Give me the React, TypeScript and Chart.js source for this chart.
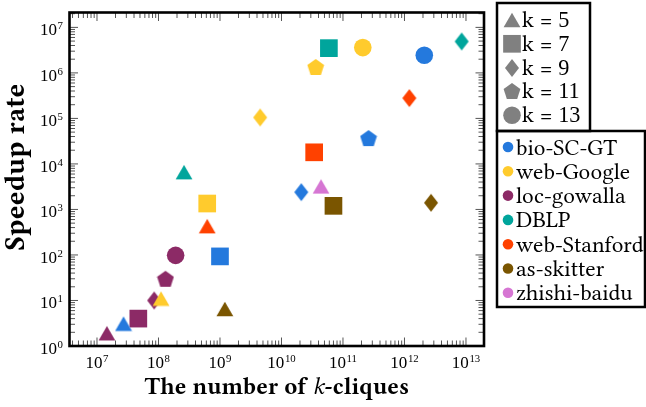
import React, { useEffect, useRef } from "react";
import { Chart, registerables } from "chart.js";

Chart.register(...registerables);

// ---------------- data ----------------
const kValues = [5, 7, 9, 11, 13];
const kShapes = ["triangle", "square", "diamond", "pentagon", "circle"];

const networks = [
  "bio-SC-GT",
  "web-Google",
  "loc-gowalla",
  "DBLP",
  "web-Stanford",
  "as-skitter",
  "zhishi-baidu",
];
const networkColors = [
  "#2479dd",
  "#ffcb2d",
  "#8c2a66",
  "#00a59c",
  "#ff4100",
  "#7a5500",
  "#d676d3",
];

// number of k-cliques / speedup for k = 5, 7, 9, 11, 13 (null = not measured)
const bioCounts = [2.7e7, 1.0e9, 2.1e10, 2.6e11, 2.1e12];
const bioSpeedups = [3.1, 93, 2.4e3, 3.7e4, 2.45e6];
const googleCounts = [1.1e8, 6.2e8, 4.5e9, 3.6e10, 2.1e11];
const googleSpeedups = [11, 1.35e3, 1.05e5, 1.35e6, 3.6e6];
const gowallaCounts = [1.45e7, 4.7e7, 8.5e7, 1.3e8, 1.9e8];
const gowallaSpeedups = [1.9, 4, 10, 30, 98];
const dblpCounts = [2.6e8, 5.9e10, 8.5e12, null, null];
const dblpSpeedups = [6.6e3, 3.5e6, 4.9e6, null, null];
const stanfordCounts = [6.2e8, 3.4e10, 1.2e12, null, null];
const stanfordSpeedups = [430, 1.8e4, 2.8e5, null, null];
const skitterCounts = [1.2e9, 7.0e10, 2.7e12, null, null];
const skitterSpeedups = [6.5, 1.2e3, 1.4e3, null, null];
const baiduCounts = [4.4e10, null, null, null, null];
const baiduSpeedups = [3.2e3, null, null, null, null];

const allCounts = [bioCounts, googleCounts, gowallaCounts, dblpCounts, stanfordCounts, skitterCounts, baiduCounts];
const allSpeedups = [bioSpeedups, googleSpeedups, gowallaSpeedups, dblpSpeedups, stanfordSpeedups, skitterSpeedups, baiduSpeedups];

const xTickExponents = [7, 8, 9, 10, 11, 12, 13];
const yTickExponents = [0, 1, 2, 3, 4, 5, 6, 7];

const xTitleParts = ["The number of ", "k", "-cliques"];
const yTitle = "Speedup rate";

// ---------------- markers ----------------
function makeCanvas(w: number, h: number) {
  const c = document.createElement("canvas");
  c.width = w;
  c.height = h;
  return c;
}

function makeMarker(shape: string, color: string): any {
  if (shape === "triangle") {
    const c = makeCanvas(18, 16);
    const g = c.getContext("2d")!;
    g.fillStyle = color;
    g.beginPath();
    g.moveTo(9, 0.8);
    g.lineTo(17.4, 15.3);
    g.lineTo(0.6, 15.3);
    g.closePath();
    g.fill();
    return c;
  }
  if (shape === "diamond") {
    const c = makeCanvas(16, 20);
    const g = c.getContext("2d")!;
    g.fillStyle = color;
    g.beginPath();
    g.moveTo(8, 0.9);
    g.lineTo(15, 10);
    g.lineTo(8, 19.1);
    g.lineTo(1, 10);
    g.closePath();
    g.fill();
    return c;
  }
  if (shape === "pentagon") {
    const c = makeCanvas(18, 18);
    const g = c.getContext("2d")!;
    g.fillStyle = color;
    const R = 8.8;
    const cx = 9;
    const cy = 9.84;
    g.beginPath();
    for (let i = 0; i < 5; i++) {
      const a = -Math.PI / 2 + (i * 2 * Math.PI) / 5;
      const px = cx + R * Math.cos(a);
      const py = cy + R * Math.sin(a);
      if (i === 0) g.moveTo(px, py);
      else g.lineTo(px, py);
    }
    g.closePath();
    g.fill();
    return c;
  }
  if (shape === "square") return "rect";
  return "circle";
}

function markerRadius(shape: string) {
  if (shape === "square") return 12.5;
  if (shape === "circle") return 8.8;
  return 9;
}

// ---------------- drawing helpers ----------------
const FAM = `"Libertinus Serif", "Liberation Serif", serif`;
const NUM = `"Liberation Serif", serif`;

function fitSize(ctx: CanvasRenderingContext2D, text: string, style: string, target: number) {
  ctx.font = `${style} 100px ${FAM}`;
  const w = ctx.measureText(text).width;
  return (100 * target) / w;
}

function drawPowerLabel(ctx: CanvasRenderingContext2D, exp: number, x: number, baseline: number, align: "center" | "right") {
  const mainSize = 17;
  const supSize = 10.8;
  ctx.font = `${mainSize}px ${NUM}`;
  const base = "10";
  const wb = ctx.measureText(base).width;
  ctx.font = `${supSize}px ${NUM}`;
  const sup = String(exp);
  const ws = ctx.measureText(sup).width;
  const gap = 0.6;
  const total = wb + gap + ws;
  const left = align === "center" ? x - total / 2 : x - total;
  ctx.textAlign = "left";
  ctx.textBaseline = "alphabetic";
  ctx.fillStyle = "#000";
  ctx.font = `${mainSize}px ${NUM}`;
  ctx.fillText(base, left, baseline);
  ctx.font = `${supSize}px ${NUM}`;
  ctx.fillText(sup, left + wb + gap, baseline - 6);
}

const axisPlugin = {
  id: "pgfAxis",
  afterDraw(chart: any) {
    const ctx: CanvasRenderingContext2D = chart.ctx;
    const a = chart.chartArea;
    const xs = chart.scales.x;
    const ys = chart.scales.y;
    ctx.save();

    // ticks (inward, mirrored)
    ctx.strokeStyle = "#555";
    ctx.lineWidth = 1;
    const majorLen = 8.5;
    const minorLen = 5.5;
    const xmin = xs.min, xmax = xs.max, ymin = ys.min, ymax = ys.max;
    ctx.beginPath();
    for (let d = Math.floor(Math.log10(xmin)); d <= Math.ceil(Math.log10(xmax)); d++) {
      for (let m = 1; m <= 9; m++) {
        const v = m * Math.pow(10, d);
        if (v < xmin || v > xmax) continue;
        const px = xs.getPixelForValue(v);
        const len = m === 1 ? majorLen : minorLen;
        ctx.moveTo(px, a.bottom);
        ctx.lineTo(px, a.bottom - len);
        ctx.moveTo(px, a.top);
        ctx.lineTo(px, a.top + len);
      }
    }
    for (let d = Math.floor(Math.log10(ymin)); d <= Math.ceil(Math.log10(ymax)); d++) {
      for (let m = 1; m <= 9; m++) {
        const v = m * Math.pow(10, d);
        if (v < ymin * 0.9999 || v > ymax) continue;
        const py = ys.getPixelForValue(v);
        const len = m === 1 ? majorLen : minorLen;
        ctx.moveTo(a.left, py);
        ctx.lineTo(a.left + len, py);
        ctx.moveTo(a.right, py);
        ctx.lineTo(a.right - len, py);
      }
    }
    ctx.stroke();

    // frame
    ctx.strokeStyle = "#000";
    ctx.lineWidth = 2.6;
    ctx.strokeRect(a.left, a.top, a.right - a.left, a.bottom - a.top);

    // tick labels
    for (const e of xTickExponents) {
      const px = xs.getPixelForValue(Math.pow(10, e));
      drawPowerLabel(ctx, e, px, a.bottom + 22, "center");
    }
    for (const e of yTickExponents) {
      const py = ys.getPixelForValue(Math.pow(10, e));
      drawPowerLabel(ctx, e, a.left - 6.5, py + 7.7, "right");
    }

    // x title
    ctx.fillStyle = "#000";
    ctx.textBaseline = "alphabetic";
    ctx.textAlign = "left";
    const styles = ["bold", "italic", "bold"];
    let w100 = 0;
    xTitleParts.forEach((p, i) => {
      ctx.font = `${styles[i]} 100px ${FAM}`;
      w100 += ctx.measureText(p).width;
    });
    const xs100 = (100 * 265) / w100;
    let tw = 0;
    const widths = xTitleParts.map((p, i) => {
      ctx.font = `${styles[i]} ${xs100}px ${FAM}`;
      const w = ctx.measureText(p).width;
      tw += w;
      return w;
    });
    let tx = (a.left + a.right) / 2 - tw / 2;
    xTitleParts.forEach((p, i) => {
      ctx.font = `${styles[i]} ${xs100}px ${FAM}`;
      ctx.fillText(p, tx, 394);
      tx += widths[i];
    });

    // y title
    const ySize = fitSize(ctx, yTitle, "bold", 167);
    ctx.save();
    ctx.translate(24, 167);
    ctx.rotate(-Math.PI / 2);
    ctx.font = `bold ${ySize}px ${FAM}`;
    ctx.textAlign = "center";
    ctx.fillText(yTitle, 0, 0);
    ctx.restore();

    // legend boxes
    const legSize = fitSize(ctx, "bio-SC-GT", "", 101);
    const LF = `${legSize}px ${FAM}`;
    const LN = `${legSize * 0.96}px ${NUM}`;
    ctx.strokeStyle = "#000";
    ctx.lineWidth = 2.5;
    ctx.strokeRect(497, 3, 93, 128);
    ctx.strokeRect(497, 131, 148, 176);

    const gray = "#808080";
    ctx.textAlign = "left";
    ctx.textBaseline = "alphabetic";
    kValues.forEach((k, i) => {
      const cy = 20 + i * 23.8;
      const cx = 512;
      const shape = kShapes[i];
      ctx.fillStyle = gray;
      if (shape === "square") {
        ctx.fillRect(cx - 8.85, cy - 8.85, 17.7, 17.7);
      } else if (shape === "circle") {
        ctx.beginPath();
        ctx.arc(cx, cy, 8.8, 0, Math.PI * 2);
        ctx.fill();
      } else {
        const m = makeMarker(shape, gray) as HTMLCanvasElement;
        ctx.drawImage(m, Math.round(cx - m.width / 2), Math.round(cy - m.height / 2));
      }
      ctx.fillStyle = "#000";
      ctx.font = LF;
      const pre = "k = ";
      ctx.fillText(pre, 522, cy + 7);
      const pw = ctx.measureText(pre).width;
      ctx.font = LN;
      ctx.fillText(String(k), 522 + pw, cy + 7);
    });

    ctx.font = LF;
    networks.forEach((n, i) => {
      const cy = 147 + i * 24.3;
      ctx.fillStyle = networkColors[i];
      ctx.beginPath();
      ctx.arc(508, cy, 5.3, 0, Math.PI * 2);
      ctx.fill();
      ctx.fillStyle = "#000";
      ctx.fillText(n, 516, cy + 7.5);
    });

    ctx.restore();
  },
};

export default function App() {
  const ref = useRef<HTMLCanvasElement | null>(null);

  useEffect(() => {
    document.body.style.margin = "0";
    const canvas = ref.current;
    if (!canvas) return;

    const datasets = networks.map((name, i) => {
      const data: { x: number; y: number }[] = [];
      const styles: any[] = [];
      const radii: number[] = [];
      kValues.forEach((_k, j) => {
        const c = allCounts[i][j];
        const s = allSpeedups[i][j];
        if (c == null || s == null) return;
        data.push({ x: c, y: s });
        styles.push(makeMarker(kShapes[j], networkColors[i]));
        radii.push(markerRadius(kShapes[j]));
      });
      return {
        label: name,
        data,
        pointStyle: styles,
        pointRadius: radii,
        pointHoverRadius: radii,
        backgroundColor: networkColors[i],
        borderColor: networkColors[i],
        pointBorderWidth: 0,
        clip: false as any,
      };
    });

    const chart = new Chart(canvas, {
      type: "scatter",
      data: { datasets },
      options: {
        animation: false,
        responsive: false,
        maintainAspectRatio: false,
        devicePixelRatio: 1,
        layout: { padding: { left: 69.5, right: 162, top: 3, bottom: 61 } },
        plugins: { legend: { display: false }, tooltip: { enabled: false } },
        scales: {
          x: { type: "logarithmic", min: Math.pow(10, 6.553), max: Math.pow(10, 13.293), display: false },
          y: { type: "logarithmic", min: 1, max: Math.pow(10, 7.327), display: false },
        },
      },
      plugins: [axisPlugin],
    });
    return () => chart.destroy();
  }, []);

  return (
    <div style={{ width: 646, height: 407 }}>
      <canvas ref={ref} width={646} height={407} style={{ display: "block" }} />
    </div>
  );
}
